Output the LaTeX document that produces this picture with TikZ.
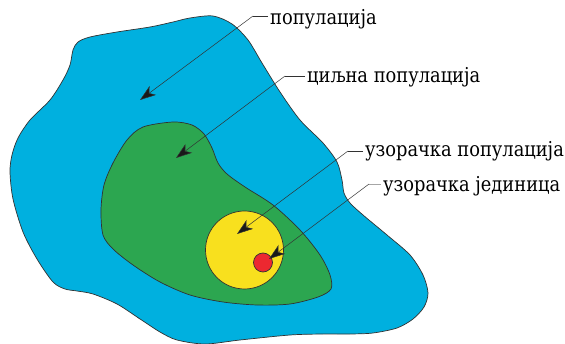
\documentclass[tikz,border=0pt]{standalone}
\usepackage{fontspec}
\newfontfamily\lblfont[FakeStretch=0.87]{DejaVu Serif}
\usetikzlibrary{arrows.meta}
\definecolor{popblue}{RGB}{0,176,223}
\definecolor{popgreen}{RGB}{44,166,80}
\definecolor{popyellow}{RGB}{248,224,30}
\definecolor{popred}{RGB}{236,40,48}
\definecolor{outline}{RGB}{50,50,50}
\tikzset{
  region/.style={draw=outline, line width=0.7pt},
  lbl/.style={anchor=west, inner sep=0pt, font=\lblfont\fontsize{20.5}{20.5}\selectfont},
  leader/.style={draw=outline, line width=0.5pt},
  pointer/.style={draw=outline, line width=0.5pt, -{Stealth[length=16pt,width=11pt,inset=4.5pt,fill=black!90]}},
}
\begin{document}
\begin{tikzpicture}[x=1pt,y=-1pt]
\useasboundingbox (0,0) rectangle (565,344);
% population
\draw[region, fill=popblue] plot[smooth cycle, tension=0.5] coordinates {
 (190,18) (213,16) (232,24) (248,40) (262,63) (280,92) (300,120) (323,143)
 (337,162) (342,180) (344,193) (350,203) (363,215) (387,235) (410,255)
 (423,275) (428,293) (424,307) (413,319) (397,328) (373,333) (350,334)
 (323,334) (290,335) (240,340) (205,344) (177,340) (160,332) (140,319)
 (117,304) (93,294) (77,291) (65,289) (53,282) (37,259) (23,232) (13,199)
 (10,172) (12,155) (18,138) (30,120) (50,100) (63,80) (70,65) (73,50)
 (78,42) (90,37) (117,32) (150,27) (173,22)};
% target population
\draw[region, fill=popgreen] plot[smooth cycle, tension=0.5] coordinates {
 (143,127) (173,122) (192,125) (204,134) (212,148) (218,163) (227,174)
 (245,187) (273,205) (300,230) (320,255) (330,275) (331,289) (318,297)
 (290,304) (257,305) (223,302) (190,295) (160,282) (133,265) (113,249)
 (103,235) (101,210) (104,185) (113,163) (127,140)};
% sample
\node[region, fill=popyellow, circle, minimum size=78pt, inner sep=0pt] (sample) at (244.5,250) {};
\node[region, fill=popred, circle, minimum size=19pt, inner sep=0pt] (unit) at (263,262.5) {};
% labels
\node[lbl] (l1) at (270,19) {популација};
\node[lbl] (l2) at (307,77) {циљна популација};
\node[lbl] (l3) at (365,151) {узорачка популација};
\node[lbl] (l4) at (383,186) {узорачка јединица};
\coordinate (e1) at (253,16);
\coordinate (e2) at (285,76);
\coordinate (e3) at (348,151);
\coordinate (e4) at (369,184);
\coordinate (t1) at (140,100);
\coordinate (t2) at (176,158);
\coordinate (t3) at (237,234);
\coordinate (t4) at (269,259);
\draw[leader] ([xshift=-2pt]l1.west |- e1) -- (e1);
\draw[pointer] (e1) -- (t1);
\draw[leader] ([xshift=-2pt]l2.west |- e2) -- (e2);
\draw[pointer] (e2) -- (t2);
\draw[leader] ([xshift=-2pt]l3.west |- e3) -- (e3);
\draw[pointer] (e3) -- (t3);
\draw[leader, draw=gray!70] ([xshift=-2pt]l4.west |- e4) -- (e4);
\draw[pointer] (e4) -- (t4);
\end{tikzpicture}
\end{document}
